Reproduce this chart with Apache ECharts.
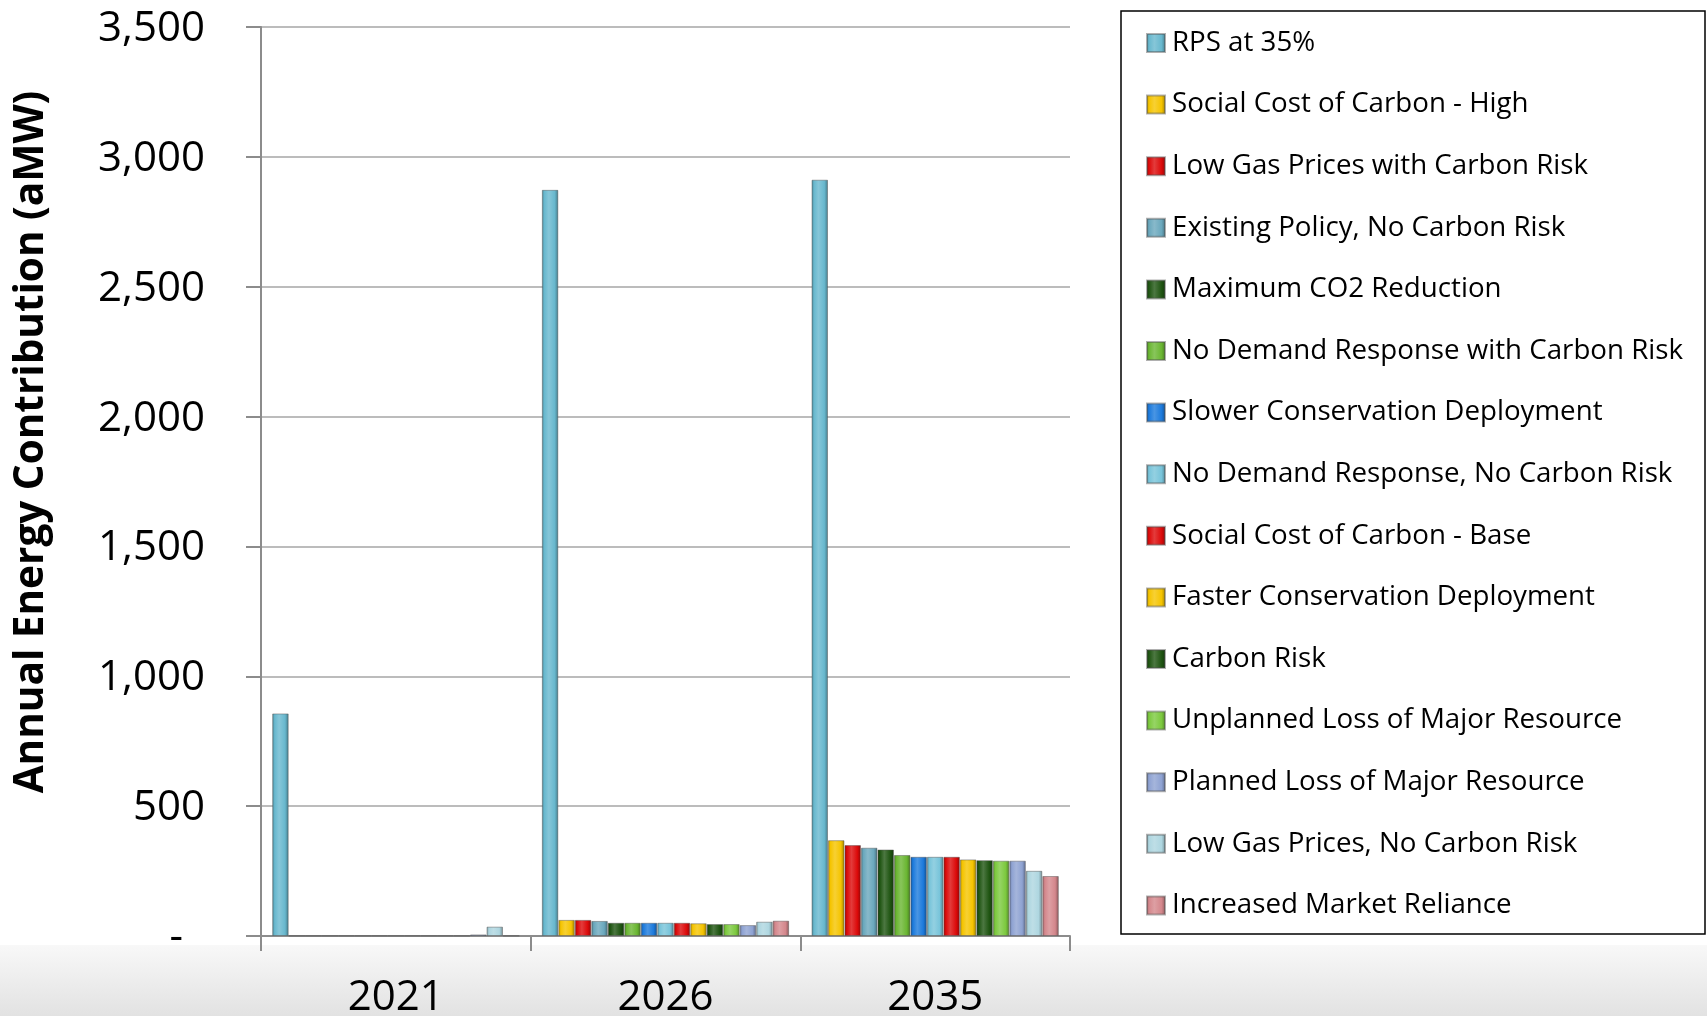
<!DOCTYPE html>
<html>
<head>
<meta charset="utf-8">
<script src="https://cdn.jsdelivr.net/npm/echarts@6/dist/echarts.min.js"></script>
<style>
html,body{margin:0;padding:0;background:#fff;}
#mycharts1{width:1707px;height:1016px;}
</style>
</head>
<body>
<div id="mycharts1"></div>
<script>
var years = ['2021', '2026', '2035'];
var scenarioNames = [
	'RPS at 35%',
	'Social Cost of Carbon - High',
	'Low Gas Prices with Carbon Risk',
	'Existing Policy, No Carbon Risk',
	'Maximum CO2 Reduction',
	'No Demand Response with Carbon Risk',
	'Slower Conservation Deployment',
	'No Demand Response, No Carbon Risk',
	'Social Cost of Carbon - Base',
	'Faster Conservation Deployment',
	'Carbon Risk',
	'Unplanned Loss of Major Resource',
	'Planned Loss of Major Resource',
	'Low Gas Prices, No Carbon Risk',
	'Increased Market Reliance'
];
// one value per scenario, same order as scenarioNames
var values2021 = [857, 1, 1, 1, 1, 1, 1, 1, 1, 1, 1, 1, 6, 36, 1];
var values2026 = [2873, 62, 62, 58, 51, 51, 51, 51, 51, 49, 46, 46, 42, 55, 59];
var values2035 = [2912, 369, 350, 340, 333, 312, 305, 305, 305, 295, 292, 290, 290, 251, 231];
var yTicks = [0, 500, 1000, 1500, 2000, 2500, 3000, 3500];

var barColors = ['#68b8ce', '#f5c400', '#dc0a0a', '#6aa8bd', '#1f5512', '#6ab632', '#1c7adc', '#78c4da',
	'#dc0a0a', '#f5c400', '#1f5512', '#7cc93e', '#8ea2d2', '#aed6e0', '#d4878c'];

var FONT = '"Open Sans", "Liberation Sans", sans-serif';

function shade(hex, f) {
	var r = parseInt(hex.substr(1, 2), 16), g = parseInt(hex.substr(3, 2), 16), b = parseInt(hex.substr(5, 2), 16);
	function c(v) {
		v = f < 0 ? v * (1 + f) : v + (255 - v) * f;
		return Math.max(0, Math.min(255, Math.round(v)));
	}
	return 'rgb(' + c(r) + ',' + c(g) + ',' + c(b) + ')';
}
function barFill(hex) {
	return new echarts.graphic.LinearGradient(0, 0, 1, 0, [
		{offset: 0, color: shade(hex, -0.3)},
		{offset: 0.15, color: hex},
		{offset: 0.42, color: shade(hex, 0.2)},
		{offset: 0.78, color: hex},
		{offset: 1, color: shade(hex, -0.35)}
	]);
}

function buildSeries() {
	var list = [];
	for (var i = 0; i < scenarioNames.length; i++) {
		list.push({
			name: scenarioNames[i],
			type: 'bar',
			barGap: '0%',
			barCategoryGap: '8.3%',
			data: [values2021[i], values2026[i], values2035[i]],
			itemStyle: {
				color: barFill(barColors[i]),
				borderColor: 'rgba(80,80,80,0.45)',
				borderWidth: 1
			}
		});
	}
	return list;
}

var myChart = echarts.init(document.getElementById('mycharts1'));
var option = {
	animation: false,
	backgroundColor: '#fff',
	grid: {
		left: 261,
		right: 637,
		top: 27,
		bottom: 80,
		containLabel: false,
		outerBoundsMode: 'none'
	},
	graphic: [{
		type: 'rect',
		z: -10,
		shape: {x: 0, y: 945, width: 1707, height: 71},
		style: {
			fill: new echarts.graphic.LinearGradient(0, 0, 0, 1, [
				{offset: 0, color: '#f8f8f8'},
				{offset: 1, color: '#e2e2e2'}
			])
		}
	}, {
		type: 'rect',
		shape: {x: 1121, y: 11, width: 584, height: 923},
		style: {fill: 'none', stroke: '#000', lineWidth: 1.5}
	}, {
		type: 'text',
		x: 31,
		y: 442,
		rotation: Math.PI / 2,
		style: {
			text: 'Annual Energy Contribution (aMW)',
			font: 'bold 40.5px ' + FONT,
			fill: '#000',
			textAlign: 'center',
			textVerticalAlign: 'middle'
		}
	}],
	legend: {
		orient: 'vertical',
		left: 1146,
		top: 29,
		padding: 0,
		itemWidth: 18,
		itemHeight: 18,
		itemGap: 33.6,
		icon: 'rect',
		data: scenarioNames,
		textStyle: {
			fontFamily: FONT,
			fontSize: 27.7,
			lineHeight: 28,
			color: '#000',
			padding: [0, 0, 0, 2]
		}
	},
	xAxis: [{
		type: 'category',
		data: years,
		axisLine: {lineStyle: {color: '#8c8c8c', width: 2}},
		axisTick: {show: true, length: 15, lineStyle: {color: '#8c8c8c', width: 2}},
		axisLabel: {
			fontFamily: FONT,
			fontSize: 42,
			color: '#000',
			margin: 41
		}
	}],
	yAxis: [{
		type: 'value',
		min: yTicks[0],
		max: yTicks[yTicks.length - 1],
		interval: 500,
		axisLine: {show: true, lineStyle: {color: '#8c8c8c', width: 2}},
		axisTick: {show: true, length: 15, lineStyle: {color: '#8c8c8c', width: 2}},
		splitLine: {lineStyle: {color: '#a6a6a6', width: 1.5}},
		axisLabel: {
			fontFamily: FONT,
			fontSize: 42,
			color: '#000',
			margin: 56,
			padding: [4, 0, 0, 0],
			formatter: function (v) {
				if (v === 0) return '{z|-}';
				return v.toLocaleString('en-US');
			},
			rich: {
				z: {fontFamily: FONT, fontSize: 42, color: '#000', padding: [0, 22, 0, 0]}
			}
		}
	}],
	series: buildSeries()
};
myChart.setOption(option, true);
</script>
</body>
</html>
